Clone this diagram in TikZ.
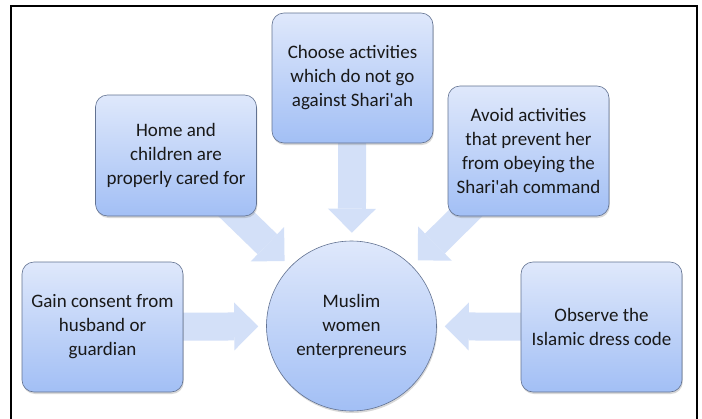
\documentclass[tikz,border=0pt]{standalone}
\usepackage{fontspec}
\setmainfont{Carlito}
\usetikzlibrary{arrows.meta,shadows,backgrounds}

\definecolor{boxtop}{RGB}{223,232,251}
\definecolor{boxbottom}{RGB}{162,191,245}
\definecolor{boxline}{RGB}{98,114,145}
\definecolor{arrowfill}{RGB}{211,224,248}

\tikzset{
  idea/.style={rectangle, rounded corners=12pt, draw=boxline, line width=0.6pt,
    top color=boxtop, bottom color=boxbottom,
    minimum width=161pt, minimum height=130pt, align=center, inner sep=2pt,
    text=black!90, font=\fontsize{19}{24}\selectfont,
    drop shadow={shadow xshift=0.8pt, shadow yshift=-2pt, opacity=0.3}},
  hubnode/.style={idea, circle, rounded corners=0pt, minimum size=170pt},
  push/.style={draw=arrowfill, line width=28pt,
    -{Triangle[width=48pt,length=24pt,line width=0pt]}, shorten >=8pt}
}

\begin{document}
\begin{tikzpicture}[x=1pt,y=-1pt]
      \clip (0,0) rectangle (702,418);

      % the five conditions round the centre
      \node[idea] (choose) at (352.5,78) {Choose activities\\which do not go\\against Shari\textquotesingle ah};
      \node[idea, minimum height=121pt] (home) at (176,155.5) {Home and\\children are\\properly cared for};
      \node[idea] (avoid) at (528.5,151) {Avoid activities\\that prevent her\\from obeying the\\Shari\textquotesingle ah command};
      \node[idea] (gain) at (102.5,327) {Gain consent from\\husband or\\guardian};
      \node[idea] (observe) at (601.5,327) {Observe the\\Islamic dress code};

      \node[hubnode] (hub) at (351.5,326) {Muslim\\women\\enterpreneurs};

      % block arrows behind the boxes
      \begin{scope}[on background layer]
          \fill[white] (0,0) rectangle (702,418);
          \foreach \src in {choose, home, avoid, gain, observe} {
              \draw[push] (\src.center) -- (hub);
          }
      \end{scope}

      % outer frame
      \draw[line width=2.5pt] (11,6) rectangle (697,440);
\end{tikzpicture}
\end{document}
